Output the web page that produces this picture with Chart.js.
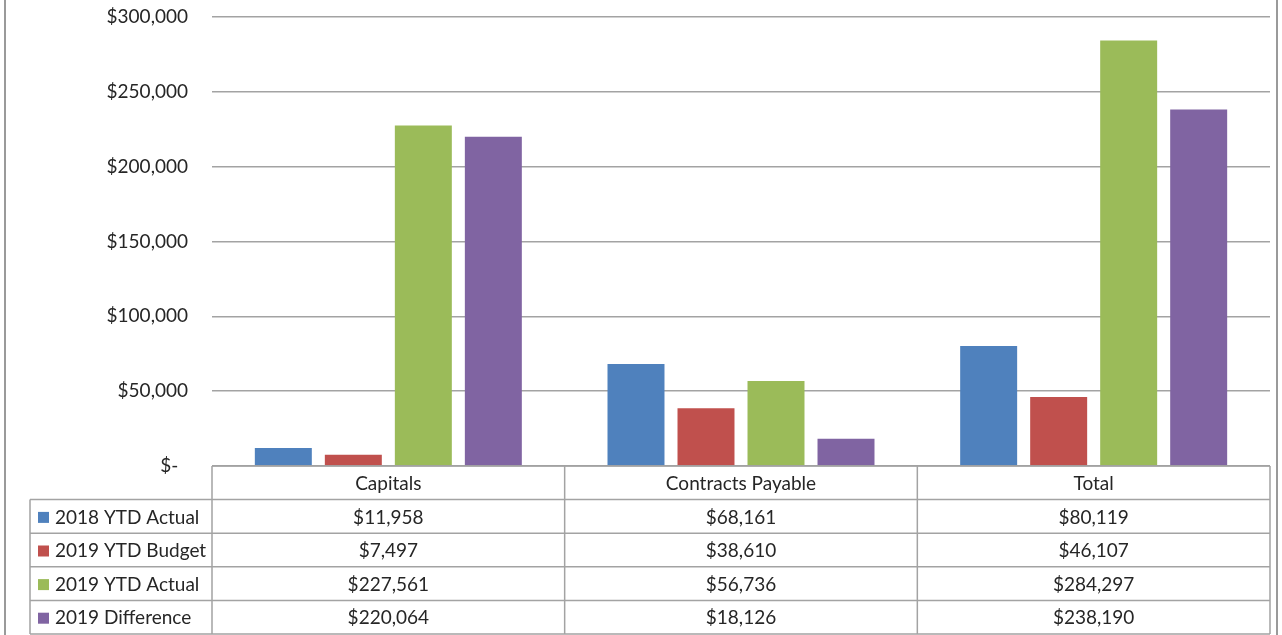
<!DOCTYPE html>
<html>
<head>
<meta charset="utf-8">
<script src="https://cdn.jsdelivr.net/npm/chart.js@4"></script>
<style>
  html, body { margin: 0; padding: 0; background: #fff; }
  #wrap { width: 1282px; height: 635px; position: relative; }
</style>
</head>
<body>
<div id="wrap"><canvas id="c" width="1282" height="635"></canvas></div>
<script>
const categories = ["Capitals", "Contracts Payable", "Total"];
const seriesNames = ["2018 YTD Actual", "2019 YTD Budget", "2019 YTD Actual", "2019 Difference"];
const actual2018 = [11958, 68161, 80119];
const budget2019 = [7497, 38610, 46107];
const actual2019 = [227561, 56736, 284297];
const diff2019 = [220064, 18126, 238190];
const seriesColors = ["#4F81BD", "#C0504D", "#9BBB59", "#8064A2"];
const yTicks = [0, 50000, 100000, 150000, 200000, 250000, 300000];

const seriesValues = [actual2018, budget2019, actual2019, diff2019];
const FONT = "Lato, 'Liberation Sans', sans-serif";
const FSIZE = 19;
const TEXT = "#262626";
const LINE = "#a3a3a3";

function money(v) {
  if (v === 0) return "$-  ";
  return "$" + v.toLocaleString("en-US");
}

const tablePlugin = {
  id: "dataTable",
  afterDraw(chart) {
    const ctx = chart.ctx;
    const xs = chart.scales.x;
    const area = chart.chartArea;
    const rowH = 33.6;
    const top = area.bottom;
    const legendLeft = 30;
    const half = (xs.getPixelForValue(1) - xs.getPixelForValue(0)) / 2;
    const colEdges = [];
    for (let i = 0; i < categories.length; i++) colEdges.push(xs.getPixelForValue(i) - half);
    colEdges.push(xs.getPixelForValue(categories.length - 1) + half);
    const left = colEdges[0], right = colEdges[colEdges.length - 1];
    const bottom = top + rowH * (seriesNames.length + 1);

    ctx.save();
    ctx.strokeStyle = LINE;
    ctx.lineWidth = 1.5;
    ctx.beginPath();
    ctx.moveTo(left, top); ctx.lineTo(right, top);
    for (let r = 1; r <= seriesNames.length + 1; r++) {
      const y = top + r * rowH;
      ctx.moveTo(legendLeft, y); ctx.lineTo(right, y);
    }
    colEdges.forEach(x => { ctx.moveTo(x, top); ctx.lineTo(x, bottom); });
    ctx.moveTo(legendLeft, top + rowH); ctx.lineTo(legendLeft, bottom);
    ctx.stroke();

    // outer chart border
    ctx.strokeStyle = "#9a9a9a";
    ctx.lineWidth = 2;
    ctx.beginPath();
    ctx.moveTo(5, 0); ctx.lineTo(5, 635);
    ctx.moveTo(1277, 0); ctx.lineTo(1277, 635);
    ctx.stroke();

    ctx.fillStyle = TEXT;
    ctx.font = FSIZE + "px " + FONT;
    ctx.textBaseline = "middle";
    ctx.textAlign = "center";
    categories.forEach((c, i) => {
      ctx.fillText(c, xs.getPixelForValue(i), top + rowH / 2 + 1);
    });
    seriesNames.forEach((name, s) => {
      const cy = top + rowH * (s + 1) + rowH / 2 + 1;
      ctx.fillStyle = seriesColors[s];
      ctx.fillRect(38, cy - 5.5, 11, 11);
      ctx.fillStyle = TEXT;
      ctx.textAlign = "left";
      ctx.fillText(name, 55, cy);
      ctx.textAlign = "center";
      seriesValues[s].forEach((v, i) => {
        ctx.fillText(money(v), xs.getPixelForValue(i), cy);
      });
    });
    ctx.restore();
  }
};

new Chart(document.getElementById("c"), {
  type: "bar",
  data: {
    labels: categories,
    datasets: seriesNames.map((n, s) => ({
      label: n,
      data: seriesValues[s],
      backgroundColor: seriesColors[s],
      borderWidth: 0,
      categoryPercentage: 0.794,
      barPercentage: 0.814
    }))
  },
  options: {
    responsive: false,
    animation: false,
    layout: { padding: { top: 17, right: 12, bottom: 169, left: 0 } },
    plugins: { legend: { display: false }, tooltip: { enabled: false } },
    scales: {
      x: { display: false },
      y: {
        min: 0, max: 300000,
        afterFit(scale) { scale.width = 212; scale.paddingTop = 0; scale.paddingBottom = 0; },
        afterBuildTicks(scale) { scale.ticks = yTicks.map(v => ({ value: v })); },
        border: { display: false },
        grid: { color: LINE, lineWidth: 1.5, drawTicks: false },
        ticks: {
          padding: 24,
          color: TEXT,
          font: { family: FONT, size: FSIZE },
          callback: v => money(v)
        }
      }
    }
  },
  plugins: [tablePlugin]
});
</script>
</body>
</html>
